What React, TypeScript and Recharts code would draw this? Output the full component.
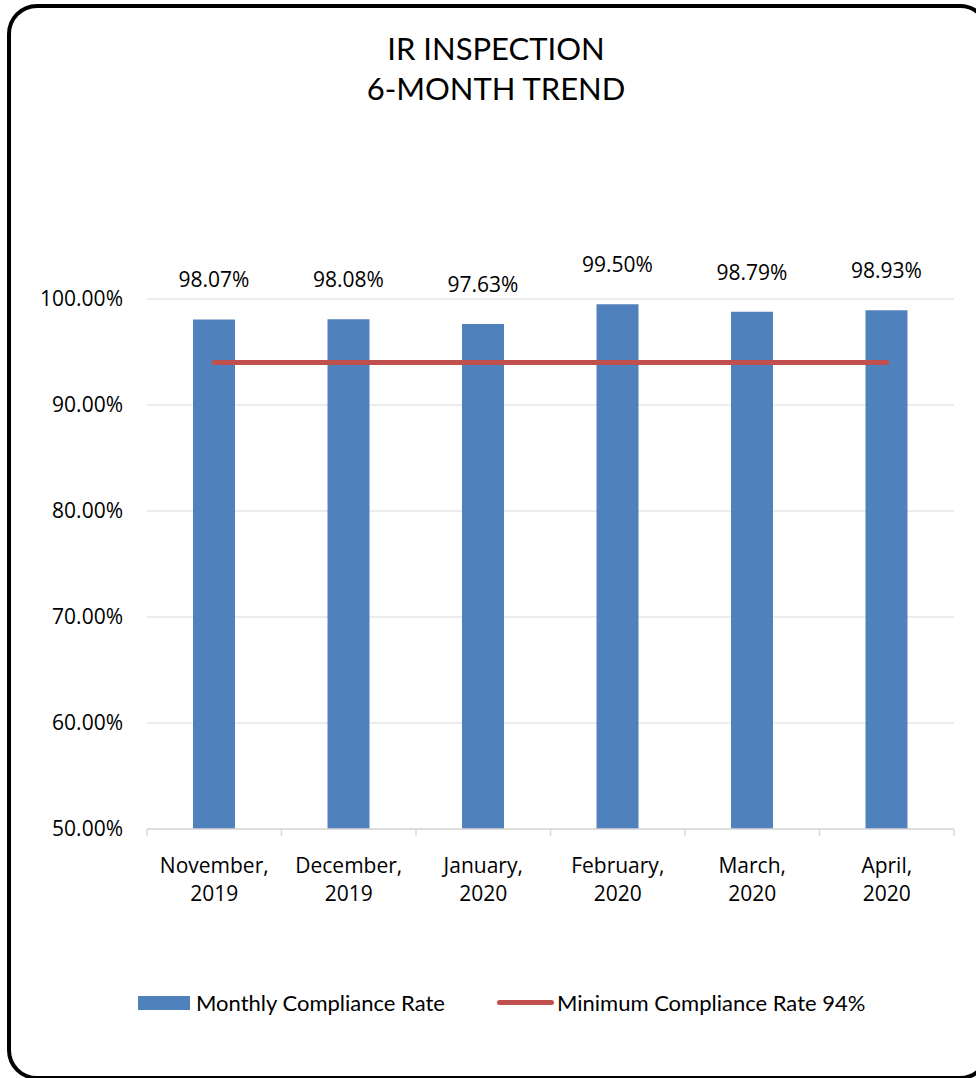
import React from "react";
import {
  ComposedChart,
  Bar,
  Line,
  XAxis,
  YAxis,
  CartesianGrid,
  Legend,
  LabelList,
} from "recharts";

const MONTHS = [
  "November, 2019",
  "December, 2019",
  "January, 2020",
  "February, 2020",
  "March, 2020",
  "April, 2020",
];
const MONTHLY_RATE = [98.07, 98.08, 97.63, 99.5, 98.79, 98.93];
const MINIMUM_RATE = [94, 94, 94, 94, 94, 94];
const Y_TICKS = [50, 60, 70, 80, 90, 100];

const BLUE = "#4F81BD";
const RED = "#C0504D";
const GRID = "#d9d9d9";
const AXIS_FONT = "'Open Sans', sans-serif";
const TITLE_FONT = "Lato, sans-serif";

const CHART_W = 976;
const CHART_H = 1078;
const PLOT_LEFT = 147;
const PLOT_RIGHT = 954;

const data = MONTHS.map((name, i) => ({
  name,
  rate: MONTHLY_RATE[i],
  min: MINIMUM_RATE[i],
}));

// category ticks: two-line label plus Excel-style tick marks at the band edges
function MonthTick(props: any) {
  const { x, y, payload, index } = props;
  const band = (PLOT_RIGHT - PLOT_LEFT) / MONTHS.length;
  const [first, second] = String(payload.value).split(", ");
  return (
    <g>
      <line x1={x - band / 2} y1={y - 8} x2={x - band / 2} y2={y - 1} stroke={GRID} strokeWidth={1.5} />
      {index === MONTHS.length - 1 && (
        <line x1={x + band / 2} y1={y - 8} x2={x + band / 2} y2={y - 1} stroke={GRID} strokeWidth={1.5} />
      )}
      <text x={x} y={y} textAnchor="middle" fontFamily={AXIS_FONT} fontSize={21} fill="#000">
        <tspan x={x} dy={36}>{first + ","}</tspan>
        <tspan x={x} dy={28}>{second}</tspan>
      </text>
    </g>
  );
}

function LegendContent(props: any) {
  // bar entry first, then the threshold line
  const items = [...(props.payload || [])].sort((a: any, b: any) =>
    a.type === b.type ? 0 : a.type === "line" ? 1 : -1
  );
  return (
    <div style={{ display: "flex", alignItems: "center", paddingLeft: 138, fontFamily: TITLE_FONT, fontSize: 22, color: "#000" }}>
      {items.map((entry: any, i: number) => (
        <div key={i} style={{ display: "flex", alignItems: "center", marginRight: 52 }}>
          {entry.type === "line" ? (
            <div style={{ width: 57, height: 5, borderRadius: 3, background: entry.color, marginRight: 3 }} />
          ) : (
            <div style={{ width: 52, height: 14, background: entry.color, marginRight: 6 }} />
          )}
          <span>{entry.value}</span>
        </div>
      ))}
    </div>
  );
}

export default function App() {
  return (
    <div style={{ position: "fixed", left: 0, top: 0, width: CHART_W, height: CHART_H, overflow: "hidden", background: "#fff" }}>
      <div
        style={{
          position: "absolute",
          left: 7,
          top: 4,
          width: 975,
          height: 1068,
          border: "4px solid #000",
          borderRadius: 30,
        }}
      />
      <div
        style={{
          position: "absolute",
          left: 0,
          top: 28,
          width: 992,
          textAlign: "center",
          fontFamily: TITLE_FONT,
          fontSize: 31,
          lineHeight: "40px",
          color: "#000",
        }}
      >
        <div>IR INSPECTION</div>
        <div>6-MONTH TREND</div>
      </div>
      <div style={{ position: "absolute", left: 0, top: 0 }}>
        <ComposedChart
          width={CHART_W}
          height={CHART_H}
          data={data}
          margin={{ top: 299, right: CHART_W - PLOT_RIGHT, bottom: 169, left: 0 }}
        >
          <CartesianGrid vertical={false} stroke={GRID} strokeWidth={1} />
          <XAxis
            dataKey="name"
            height={80}
            interval={0}
            axisLine={{ stroke: GRID, strokeWidth: 1.5 }}
            tickLine={false}
            tick={<MonthTick />}
          />
          <YAxis
            width={PLOT_LEFT}
            domain={[50, 100]}
            ticks={Y_TICKS}
            axisLine={false}
            tickLine={false}
            tickSize={0}
            tickMargin={24}
            tickFormatter={(v: number) => `${v.toFixed(2)}%`}
            tick={{ fontFamily: AXIS_FONT, fontSize: 21, fill: "#000" }}
          />
          <Legend
            layout="horizontal"
            verticalAlign="middle"
            align="center"
            content={<LegendContent />}
            wrapperStyle={{ top: 989, left: 0, width: CHART_W }}
          />
          <Bar dataKey="rate" name="Monthly Compliance Rate" fill={BLUE} barSize={42} isAnimationActive={false}>
            <LabelList
              dataKey="rate"
              position="top"
              offset={32}
              formatter={(v: number) => `${v.toFixed(2)}%`}
              style={{ fontFamily: AXIS_FONT, fontSize: 21, fill: "#000" }}
            />
          </Bar>
          <Line
            dataKey="min"
            name="Minimum Compliance Rate 94%"
            type="linear"
            stroke={RED}
            strokeWidth={5}
            strokeLinecap="round"
            dot={false}
            activeDot={false}
            legendType="line"
            isAnimationActive={false}
          />
        </ComposedChart>
      </div>
    </div>
  );
}
